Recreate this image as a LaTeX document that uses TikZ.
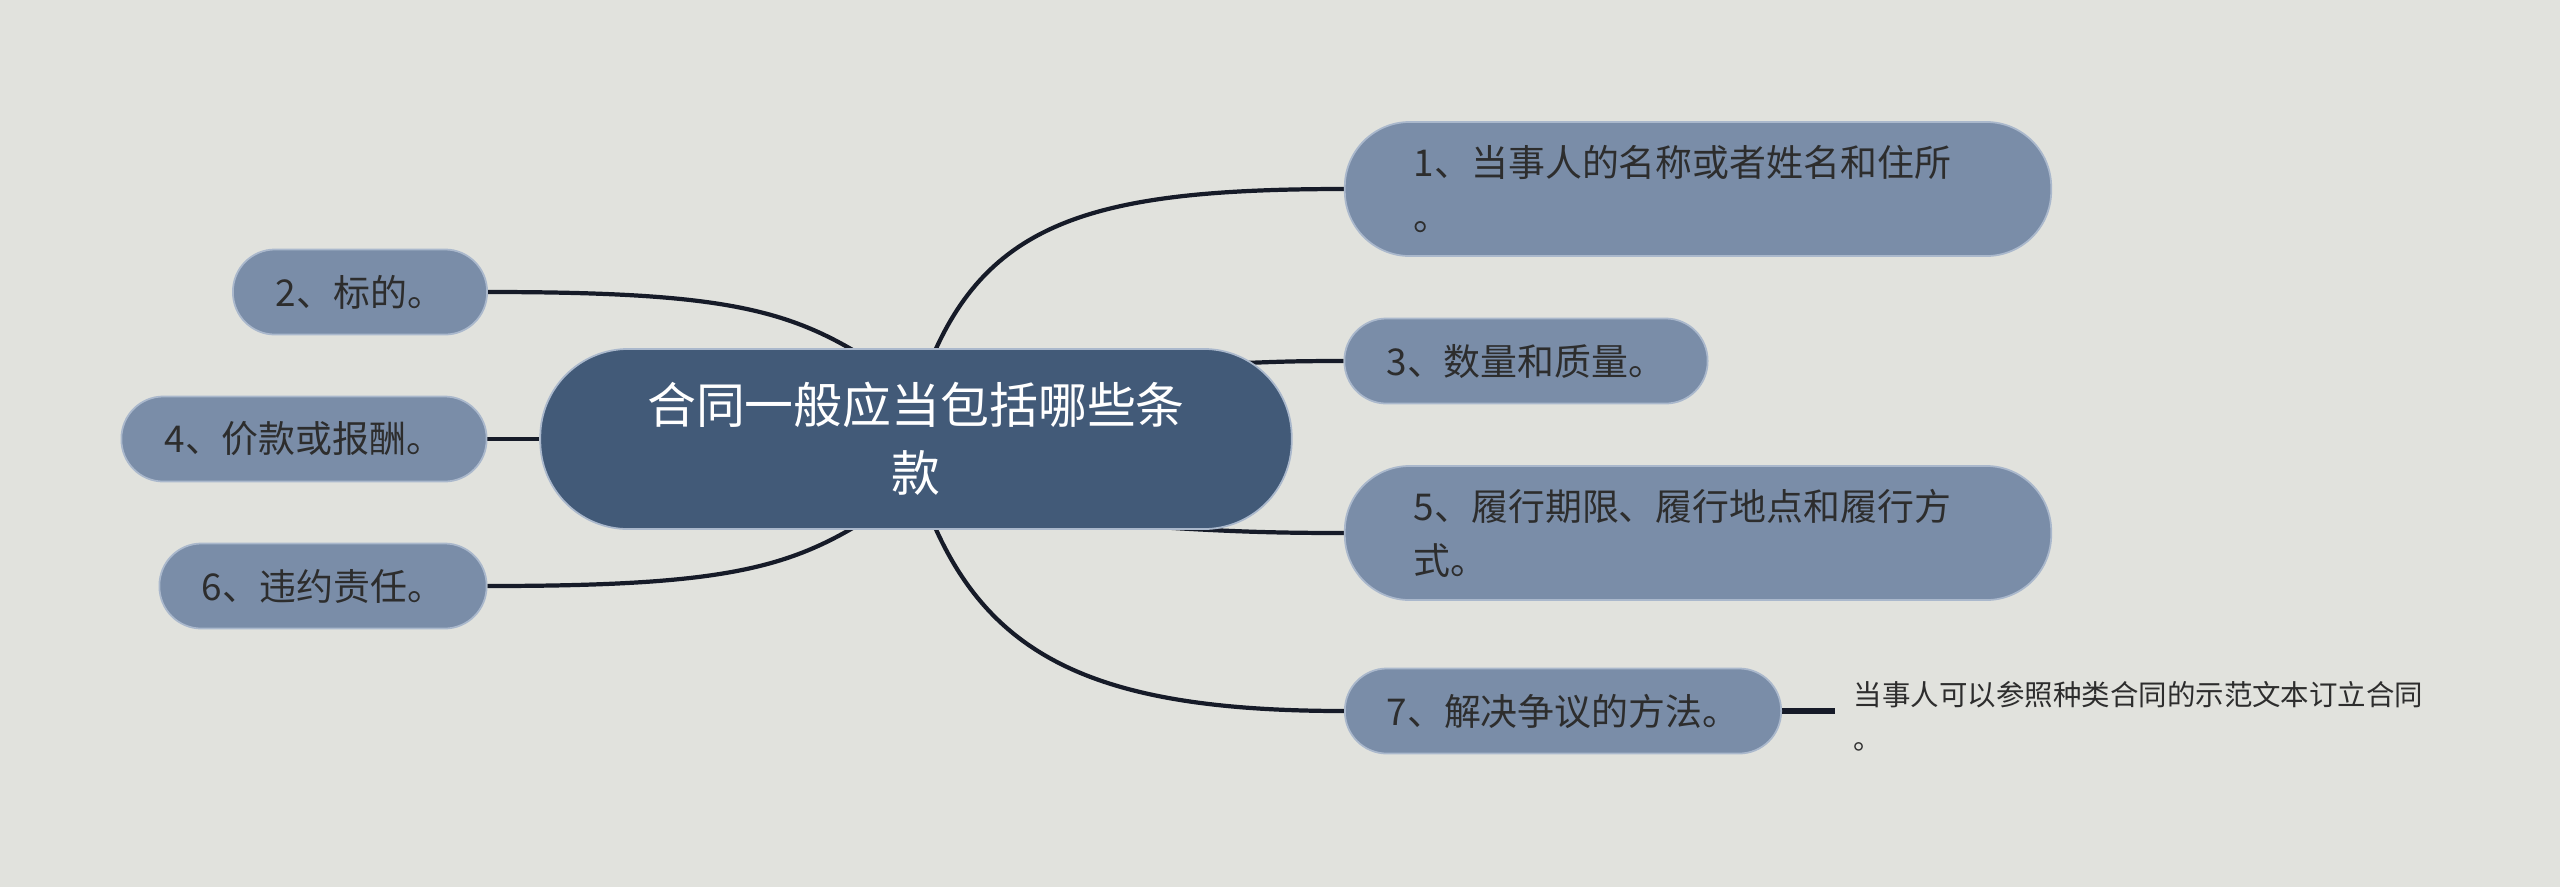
\documentclass[tikz,border=0pt]{standalone}
\usepackage{fontspec}
\newfontfamily\cjk{Noto Sans CJK SC}
\usetikzlibrary{calc,backgrounds}
\definecolor{bgc}{RGB}{225,226,221}
\definecolor{leaffill}{RGB}{122,141,168}
\definecolor{leafedge}{RGB}{170,184,204}
\definecolor{rootfill}{RGB}{66,90,120}
\definecolor{conncol}{RGB}{22,27,40}
\definecolor{txtdark}{RGB}{45,45,45}
\tikzset{
  leaf/.style={fill=leaffill, draw=leafedge, line width=0.5pt, text=txtdark,
    font=\cjk\fontsize{10.5}{15.4}\selectfont, inner sep=0pt,
    minimum height=0.85cm, rounded corners=0.42cm},
  bigleaf/.style={leaf, minimum height=1.34cm, rounded corners=0.65cm,
    inner xsep=0.69cm, text width=5.68cm, align=left},
  rootnode/.style={fill=rootfill, draw=leafedge, line width=0.5pt, text=white,
    font=\cjk\fontsize{13.9}{19.3}\selectfont, align=center, inner sep=0pt,
    minimum width=7.51cm, minimum height=1.8cm, rounded corners=0.88cm},
  notenode/.style={text=txtdark, font=\cjk\fontsize{8.1}{12.5}\selectfont,
    align=left, inner sep=0pt},
  conn/.style={draw=conncol, line width=1.2pt}
}
\begin{document}
\begin{tikzpicture}[x=0.01cm, y=-0.01cm]
\useasboundingbox (0,0) rectangle (2560,887);
% nodes
\node[rootnode] (c) at (916,439) {合同一般应当包括哪些条\\款};
\node[bigleaf] (n1) at (1698,189) {1、当事人的名称或者姓名和住所\\。};
\node[leaf, minimum width=2.54cm] (n2) at (360,292) {2、标的。};
\node[leaf, minimum width=3.63cm] (n3) at (1526,361) {3、数量和质量。};
\node[leaf, minimum width=3.65cm] (n4) at (304,439) {4、价款或报酬。};
\node[bigleaf] (n5) at (1698,533) {5、履行期限、履行地点和履行方\\式。};
\node[leaf, minimum width=3.27cm] (n6) at (323,586) {6、违约责任。};
\node[leaf, minimum width=4.36cm] (n7) at (1563,711) {7、解决争议的方法。};
\node[notenode, anchor=west] (note) at (1853,716) {当事人可以参照种类合同的示范文本订立合同\\。};
\coordinate (ne) at (1835,711);
% connectors
\begin{scope}[on background layer]
\fill[bgc] (0,0) rectangle (2560,887);
\draw[conn] ($(c.north)+(15,12)$) .. controls +(59,-141) and +(-245,0) .. (n1.west);
\draw[conn] ($(c.center)+(300,-75)$) .. controls +(60,-2) and +(-60,0) .. (n3.west);
\draw[conn] ($(c.center)+(134,81)$) .. controls +(150,10) and +(-100,0) .. (n5.west);
\draw[conn] ($(c.south)+(15,-12)$) .. controls +(59,141) and +(-245,0) .. (n7.west);
\draw[conn] (n2.east) .. controls +(230,0) and +(-80,-50) .. ($(c.north)+(-50,10)$);
\draw[conn] (n6.east) .. controls +(230,0) and +(-80,50) .. ($(c.south)+(-50,-10)$);
\draw[conn] (n4.east) -- (c.west);
\draw[conn, line width=1.6pt] (n7.east) -- (ne);
\end{scope}
\end{tikzpicture}
\end{document}
